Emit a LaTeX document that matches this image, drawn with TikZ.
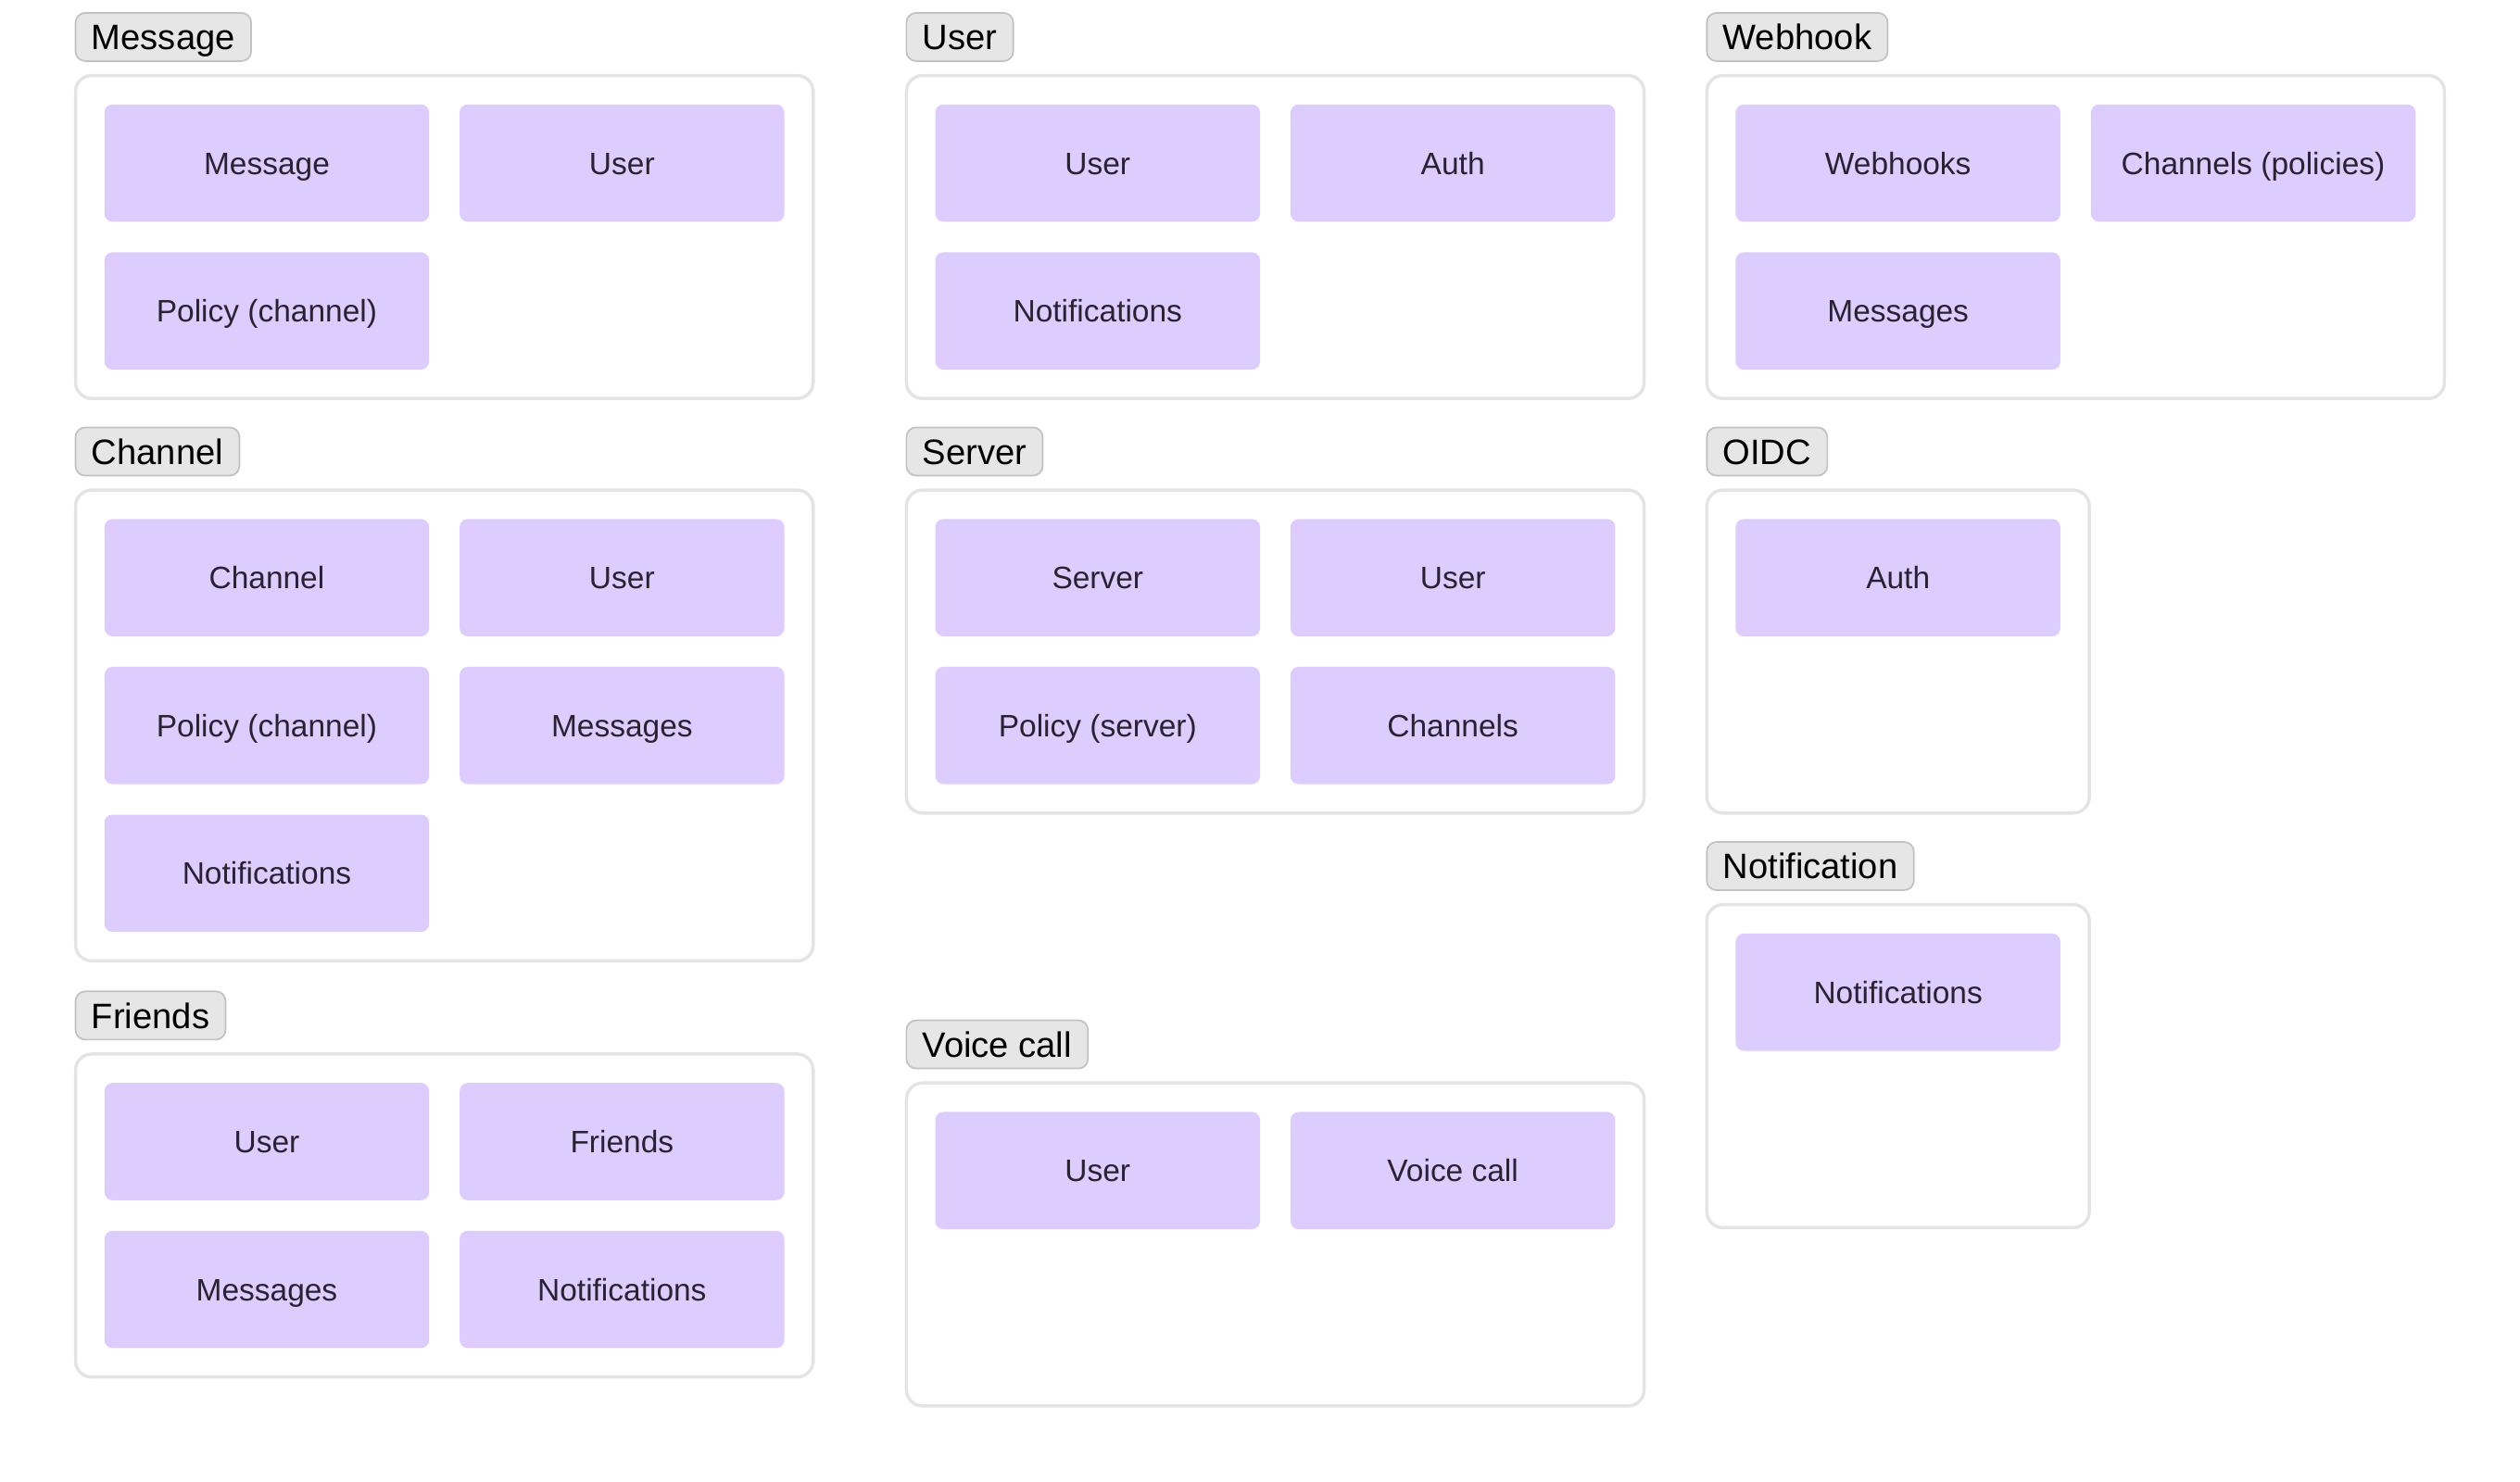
\documentclass[tikz,border=0pt]{standalone}
\usepackage{fontspec}
\setmainfont{Liberation Sans}
\usetikzlibrary{
  positioning,  % Function "of" (e.g. [right=of x])
}
\definecolor{svcfill}{HTML}{DDCCFD}
\definecolor{svctext}{HTML}{2A2233}
\definecolor{grpline}{HTML}{E4E4E4}
\definecolor{tagfill}{HTML}{E6E6E6}
\definecolor{tagline}{HTML}{C2C2C2}
\def\mysvcdist{19pt}
\def\mytagdist{9pt}
\def\mypad{18}
\tikzset{
  font=\fontsize{19.3}{23}\selectfont,
  outer sep=0pt,
  my group/.style={
    draw=grpline,
    line width=2pt,
    fill=white,
    rounded corners=10pt,
    minimum width=459pt,
    minimum height=201pt,
    inner sep=0pt,
    anchor=north west,
    rectangle
  },
  my group tall/.style={
    my group,
    minimum height=293pt
  },
  my group narrow/.style={
    my group,
    minimum width=238pt
  },
  my tag/.style={
    draw=tagline,
    line width=1pt,
    fill=tagfill,
    text=black,
    rounded corners=6pt,
    minimum height=30pt,
    inner xsep=10pt,
    inner ysep=0pt,
    text height=15.8pt,
    text depth=0pt,
    font=\fontsize{22}{25}\selectfont,
    rectangle
  },
  my service/.style={
    fill=svcfill,
    text=svctext,
    rounded corners=5pt,
    minimum width=202pt,
    minimum height=73pt,
    inner sep=0pt,
    text height=13.8pt,
    text depth=0pt,
    rectangle
  }
}

\begin{document}
\begin{tikzpicture}[x=1pt,y=-1pt,node distance=\mysvcdist]
\useasboundingbox (0,0) rectangle (1568,922);
% Message
\node[my group] (msg) at (47,47) {};
\node[my tag,above=\mytagdist of msg.north west,anchor=south west] (msg tag) {Message};
\node[my service,anchor=north west] (msg 1) at ([shift={(\mypad,\mypad)}]msg.north west) {Message};
\node[my service] (msg 2) [right=of msg 1] {User};
\node[my service] (msg 3) [below=of msg 1] {Policy (channel)};
% Channel
\node[my group tall] (chan) at (47,305) {};
\node[my tag,above=\mytagdist of chan.north west,anchor=south west] (chan tag) {Channel};
\node[my service,anchor=north west] (chan 1) at ([shift={(\mypad,\mypad)}]chan.north west) {Channel};
\node[my service] (chan 2) [right=of chan 1] {User};
\node[my service] (chan 3) [below=of chan 1] {Policy (channel)};
\node[my service] (chan 4) [right=of chan 3] {Messages};
\node[my service] (chan 5) [below=of chan 3] {Notifications};
% Friends
\node[my group] (frnd) at (47,656) {};
\node[my tag,above=\mytagdist of frnd.north west,anchor=south west] (frnd tag) {Friends};
\node[my service,anchor=north west] (frnd 1) at ([shift={(\mypad,\mypad)}]frnd.north west) {User};
\node[my service] (frnd 2) [right=of frnd 1] {Friends};
\node[my service] (frnd 3) [below=of frnd 1] {Messages};
\node[my service] (frnd 4) [right=of frnd 3] {Notifications};
% User
\node[my group] (user) at (564,47) {};
\node[my tag,above=\mytagdist of user.north west,anchor=south west] (user tag) {User};
\node[my service,anchor=north west] (user 1) at ([shift={(\mypad,\mypad)}]user.north west) {User};
\node[my service] (user 2) [right=of user 1] {Auth};
\node[my service] (user 3) [below=of user 1] {Notifications};
% Server
\node[my group] (srv) at (564,305) {};
\node[my tag,above=\mytagdist of srv.north west,anchor=south west] (srv tag) {Server};
\node[my service,anchor=north west] (srv 1) at ([shift={(\mypad,\mypad)}]srv.north west) {Server};
\node[my service] (srv 2) [right=of srv 1] {User};
\node[my service] (srv 3) [below=of srv 1] {Policy (server)};
\node[my service] (srv 4) [right=of srv 3] {Channels};
% Voice call
\node[my group] (voice) at (564,674) {};
\node[my tag,above=\mytagdist of voice.north west,anchor=south west] (voice tag) {Voice call};
\node[my service,anchor=north west] (voice 1) at ([shift={(\mypad,\mypad)}]voice.north west) {User};
\node[my service] (voice 2) [right=of voice 1] {Voice call};
% Webhook
\node[my group] (hook) at (1062,47) {};
\node[my tag,above=\mytagdist of hook.north west,anchor=south west] (hook tag) {Webhook};
\node[my service,anchor=north west] (hook 1) at ([shift={(\mypad,\mypad)}]hook.north west) {Webhooks};
\node[my service] (hook 2) [right=of hook 1] {Channels (policies)};
\node[my service] (hook 3) [below=of hook 1] {Messages};
% OIDC
\node[my group narrow] (oidc) at (1062,305) {};
\node[my tag,above=\mytagdist of oidc.north west,anchor=south west] (oidc tag) {OIDC};
\node[my service,anchor=north west] (oidc 1) at ([shift={(\mypad,\mypad)}]oidc.north west) {Auth};
% Notification
\node[my group narrow] (notif) at (1062,563) {};
\node[my tag,above=\mytagdist of notif.north west,anchor=south west] (notif tag) {Notification};
\node[my service,anchor=north west] (notif 1) at ([shift={(\mypad,\mypad)}]notif.north west) {Notifications};
\end{tikzpicture}
\end{document}
